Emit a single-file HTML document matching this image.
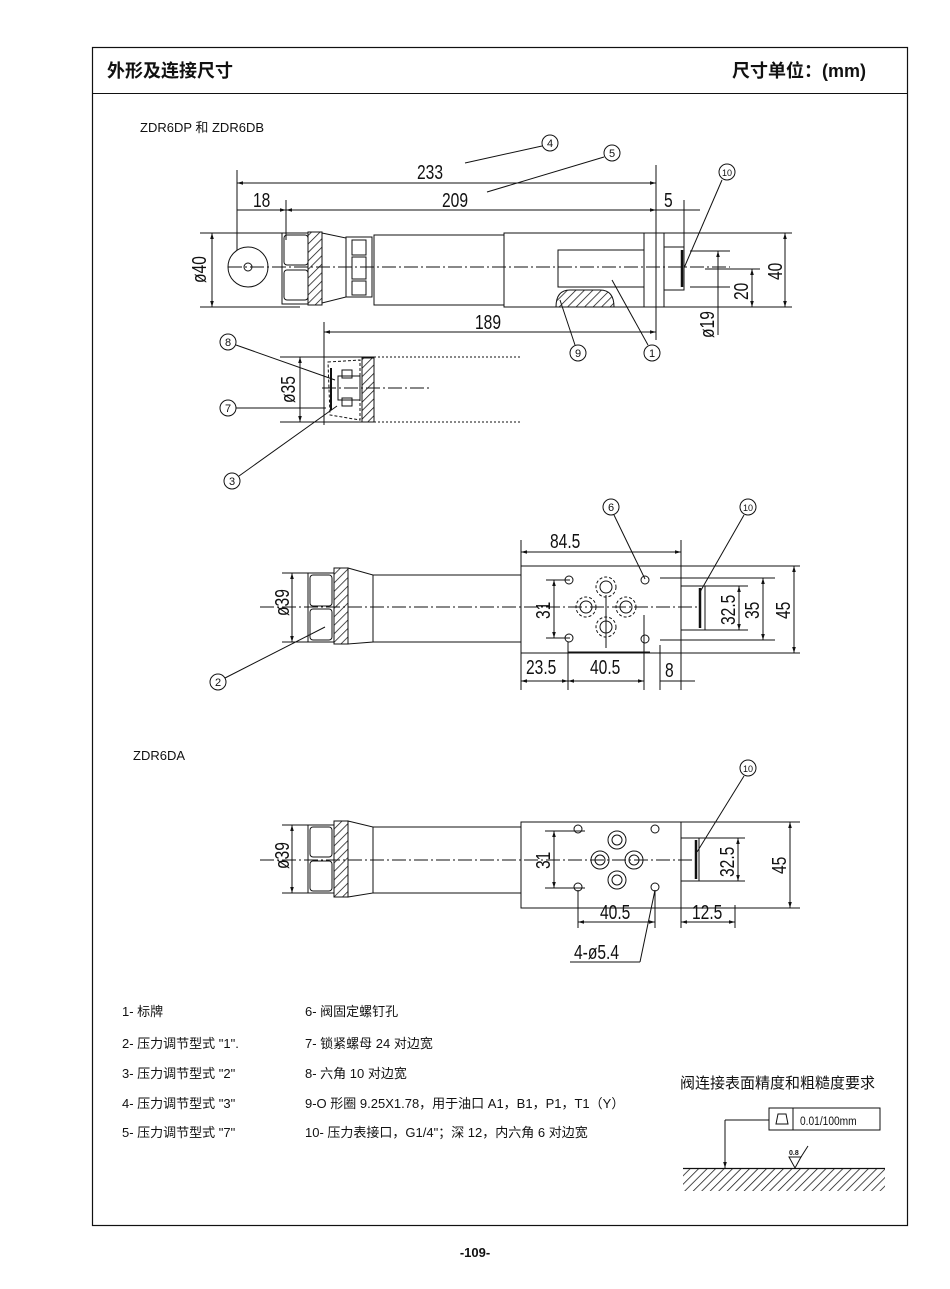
<!DOCTYPE html>
<html><head><meta charset="utf-8"><style>
body{margin:0;background:#fff;}
svg{display:block;}
text{font-family:"Liberation Sans","Noto Sans CJK SC",sans-serif;fill:#111;}
.d{font-family:"Liberation Sans",sans-serif;font-size:20px;}
.l{font-size:13px;}
</style></head><body>
<svg width="950" height="1289" viewBox="0 0 950 1289" xmlns="http://www.w3.org/2000/svg">
<defs>
<marker id="a" viewBox="0 0 10 10" refX="10" refY="5" markerWidth="8" markerHeight="6" orient="auto-start-reverse"><path d="M0,2 L10,5 L0,8z" fill="#111"/></marker>
<pattern id="h" width="6" height="6" patternUnits="userSpaceOnUse" patternTransform="rotate(45)"><line x1="0" y1="0" x2="0" y2="6" stroke="#111" stroke-width="1.5"/></pattern>
</defs>
<g fill="none" stroke="#111" stroke-width="1">
<rect x="92.5" y="47.5" width="815" height="1178" stroke-width="1.2"/>
<line x1="92" y1="93.5" x2="907" y2="93.5"/>
</g>
<text x="107" y="77" font-size="18" font-weight="bold">外形及连接尺寸</text>
<text x="732" y="77" font-size="18" font-weight="bold">尺寸单位：(mm)</text>
<text x="140" y="132" class="l">ZDR6DP 和 ZDR6DB</text>

<!-- TOP VIEW -->
<g fill="none" stroke="#111" stroke-width="1">
<line x1="237" y1="170" x2="237" y2="262"/>
<line x1="286" y1="200" x2="286" y2="240"/>
<line x1="656" y1="165" x2="656" y2="340"/>
<line x1="684" y1="200" x2="684" y2="255"/>
<line x1="237" y1="183" x2="656" y2="183" marker-start="url(#a)" marker-end="url(#a)"/>
<line x1="237" y1="210" x2="286" y2="210" marker-end="url(#a)"/>
<line x1="286" y1="210" x2="656" y2="210" marker-start="url(#a)" marker-end="url(#a)"/>
<line x1="656" y1="210" x2="700" y2="210"/>
<line x1="324" y1="332" x2="656" y2="332" marker-start="url(#a)" marker-end="url(#a)"/>
<line x1="324" y1="322" x2="324" y2="425"/>
<line x1="200" y1="233" x2="300" y2="233"/>
<line x1="200" y1="307" x2="300" y2="307"/>
<line x1="212" y1="233" x2="212" y2="307" marker-start="url(#a)" marker-end="url(#a)"/>
<line x1="644" y1="233" x2="792" y2="233"/>
<line x1="644" y1="307" x2="792" y2="307"/>
<line x1="785" y1="233" x2="785" y2="307" marker-start="url(#a)" marker-end="url(#a)"/>
<line x1="690" y1="251" x2="730" y2="251"/>
<line x1="690" y1="287" x2="730" y2="287"/>
<line x1="718" y1="251" x2="718" y2="335" marker-start="url(#a)"/>
<line x1="705" y1="269" x2="760" y2="269"/>
<line x1="752" y1="269" x2="752" y2="307" marker-start="url(#a)" marker-end="url(#a)"/>
<circle cx="248" cy="267" r="20" fill="#fff"/>
<circle cx="248" cy="267" r="4"/>
<rect x="284" y="235" width="24" height="30" rx="3"/>
<rect x="284" y="270" width="24" height="30" rx="3"/>
<rect x="282" y="233" width="26" height="71"/>
<rect x="308" y="232" width="14" height="73" fill="url(#h)"/>
<path d="M322,233 L346,238 L346,297 L322,303z"/>
<rect x="346" y="237" width="26" height="60"/>
<path d="M352,240 h14 v15 h-14z M352,257 h14 v22 h-14z M352,281 h14 v14 h-14z"/>
<rect x="374" y="235" width="130" height="70"/>
<rect x="504" y="233" width="140" height="74"/>
<rect x="644" y="233" width="20" height="74"/>
<rect x="664" y="247" width="20" height="43"/>
<line x1="682" y1="250" x2="682" y2="287" stroke-width="2.5"/>
<rect x="558" y="250" width="86" height="37"/>
<path d="M556,307 Q556,290 570,290 L600,290 Q614,290 614,307z" fill="url(#h)"/>
<line x1="228" y1="267" x2="730" y2="267" stroke-dasharray="14 3 2 3"/>
<line x1="280" y1="357" x2="324" y2="357"/>
<line x1="280" y1="422" x2="324" y2="422"/>
<line x1="300" y1="357" x2="300" y2="422" marker-start="url(#a)" marker-end="url(#a)"/>
<path d="M324,357 L374,357 L374,422 L324,422z"/>
<path d="M328,362 L360,360 L360,420 L330,415z" stroke-dasharray="3 2"/>
<rect x="362" y="358" width="12" height="64" fill="url(#h)"/>
<rect x="338" y="376" width="22" height="24"/>
<rect x="342" y="370" width="10" height="8"/>
<rect x="342" y="398" width="10" height="8"/>
<line x1="331" y1="368" x2="331" y2="410" stroke-width="2"/>
<line x1="374" y1="357" x2="520" y2="357" stroke-dasharray="2 2"/>
<line x1="374" y1="422" x2="520" y2="422" stroke-dasharray="2 2"/>
<line x1="322" y1="388" x2="430" y2="388" stroke-dasharray="14 3 2 3"/>
<circle cx="550" cy="143" r="8"/><line x1="465" y1="163" x2="542" y2="146"/>
<circle cx="612" cy="153" r="8"/><line x1="487" y1="192" x2="604" y2="157"/>
<circle cx="727" cy="172" r="8"/><line x1="722" y1="180" x2="684" y2="268"/>
<circle cx="578" cy="353" r="8"/><line x1="575" y1="345" x2="560" y2="300"/>
<circle cx="652" cy="353" r="8"/><line x1="648" y1="345" x2="612" y2="280"/>
<circle cx="228" cy="342" r="8"/><line x1="236" y1="345" x2="335" y2="380"/>
<circle cx="228" cy="408" r="8"/><line x1="236" y1="408" x2="326" y2="408"/>
<circle cx="232" cy="481" r="8"/><line x1="239" y1="476" x2="337" y2="406"/>
</g>
<text class="d" transform="translate(417,179) scale(0.78,1)">233</text>
<text class="d" transform="translate(442,207) scale(0.78,1)">209</text>
<text class="d" transform="translate(253,207) scale(0.78,1)">18</text>
<text class="d" transform="translate(664,207) scale(0.78,1)">5</text>
<text class="d" transform="translate(475,329) scale(0.78,1)">189</text>
<text class="d" transform="translate(206,283) rotate(-90) scale(0.78,1)">ø40</text>
<text class="d" transform="translate(782,280) rotate(-90) scale(0.78,1)">40</text>
<text class="d" transform="translate(748,300) rotate(-90) scale(0.78,1)">20</text>
<text class="d" transform="translate(714,338) rotate(-90) scale(0.78,1)">ø19</text>
<text class="d" transform="translate(295,403) rotate(-90) scale(0.78,1)">ø35</text>
<g font-size="11" text-anchor="middle"><text x="550" y="147">4</text><text x="612" y="157">5</text><text x="727" y="176" font-size="9">10</text><text x="578" y="357">9</text><text x="652" y="357">1</text><text x="228" y="346">8</text><text x="228" y="412">7</text><text x="232" y="485">3</text></g>

<!-- MIDDLE VIEW -->
<g fill="none" stroke="#111" stroke-width="1">
<line x1="282" y1="573" x2="330" y2="573"/><line x1="282" y1="642" x2="330" y2="642"/>
<line x1="292" y1="573" x2="292" y2="642" marker-start="url(#a)" marker-end="url(#a)"/>
<rect x="308" y="573" width="26" height="69"/>
<rect x="310" y="575" width="22" height="31" rx="3"/><rect x="310" y="609" width="22" height="31" rx="3"/>
<rect x="334" y="568" width="14" height="76" fill="url(#h)"/>
<path d="M348,568 L373,575 L373,642 L348,644z"/>
<rect x="373" y="575" width="148" height="67"/>
<rect x="521" y="566" width="160" height="87"/>
<rect x="681" y="586" width="24" height="44"/>
<line x1="700" y1="588" x2="700" y2="628" stroke-width="2.5"/>
<line x1="260" y1="607" x2="700" y2="607" stroke-dasharray="14 3 2 3"/>
<line x1="521" y1="540" x2="521" y2="690"/><line x1="681" y1="540" x2="681" y2="690"/>
<line x1="521" y1="552" x2="681" y2="552" marker-start="url(#a)" marker-end="url(#a)"/>
<line x1="681" y1="566" x2="800" y2="566"/><line x1="681" y1="653" x2="800" y2="653"/>
<line x1="660" y1="578" x2="775" y2="578"/><line x1="660" y1="640" x2="775" y2="640"/>
<line x1="705" y1="586" x2="748" y2="586"/><line x1="705" y1="630" x2="748" y2="630"/>
<line x1="794" y1="566" x2="794" y2="653" marker-start="url(#a)" marker-end="url(#a)"/>
<line x1="763" y1="578" x2="763" y2="640" marker-start="url(#a)" marker-end="url(#a)"/>
<line x1="739" y1="586" x2="739" y2="630" marker-start="url(#a)" marker-end="url(#a)"/>
<line x1="546" y1="580" x2="570" y2="580"/><line x1="546" y1="638" x2="570" y2="638"/>
<line x1="554" y1="580" x2="554" y2="638" marker-start="url(#a)" marker-end="url(#a)"/>
<circle cx="569" cy="580" r="4"/><circle cx="569" cy="638" r="4"/><circle cx="645" cy="580" r="4"/><circle cx="645" cy="639" r="4"/>
<circle cx="606" cy="587" r="6"/><circle cx="606" cy="627" r="6"/><circle cx="586" cy="607" r="6"/><circle cx="626" cy="607" r="6"/>
<g stroke-dasharray="3 2"><circle cx="606" cy="587" r="10"/><circle cx="606" cy="627" r="10"/><circle cx="586" cy="607" r="10"/><circle cx="626" cy="607" r="10"/></g>
<line x1="606" y1="595" x2="606" y2="648"/>
<line x1="568" y1="642" x2="568" y2="690"/><line x1="644" y1="615" x2="644" y2="690"/><line x1="660" y1="645" x2="660" y2="690"/>
<line x1="521" y1="681" x2="568" y2="681" marker-start="url(#a)" marker-end="url(#a)"/>
<line x1="568" y1="681" x2="644" y2="681" marker-start="url(#a)" marker-end="url(#a)"/>
<line x1="660" y1="681" x2="695" y2="681"/>
<line x1="568" y1="652" x2="650" y2="652"/>
<circle cx="611" cy="507" r="8"/><line x1="614" y1="515" x2="645" y2="579"/>
<circle cx="748" cy="507" r="8"/><line x1="744" y1="515" x2="700" y2="592"/>
<circle cx="218" cy="682" r="8"/><line x1="225" y1="678" x2="325" y2="627"/>
</g>
<text class="d" transform="translate(550,548) scale(0.78,1)">84.5</text>
<text class="d" transform="translate(526,674) scale(0.78,1)">23.5</text>
<text class="d" transform="translate(590,674) scale(0.78,1)">40.5</text>
<text class="d" transform="translate(665,677) scale(0.78,1)">8</text>
<text class="d" transform="translate(289,616) rotate(-90) scale(0.78,1)">ø39</text>
<text class="d" transform="translate(550,619) rotate(-90) scale(0.78,1)">31</text>
<text class="d" transform="translate(735,625) rotate(-90) scale(0.78,1)">32.5</text>
<text class="d" transform="translate(759,619) rotate(-90) scale(0.78,1)">35</text>
<text class="d" transform="translate(790,619) rotate(-90) scale(0.78,1)">45</text>
<g font-size="11" text-anchor="middle"><text x="611" y="511">6</text><text x="748" y="511" font-size="9">10</text><text x="218" y="686">2</text></g>

<text x="133" y="760" class="l">ZDR6DA</text>
<!-- BOTTOM VIEW -->
<g fill="none" stroke="#111" stroke-width="1">
<line x1="282" y1="825" x2="330" y2="825"/><line x1="282" y1="893" x2="330" y2="893"/>
<line x1="292" y1="825" x2="292" y2="893" marker-start="url(#a)" marker-end="url(#a)"/>
<rect x="308" y="825" width="26" height="68"/>
<rect x="310" y="827" width="22" height="30" rx="3"/><rect x="310" y="861" width="22" height="30" rx="3"/>
<rect x="334" y="821" width="14" height="76" fill="url(#h)"/>
<path d="M348,821 L373,827 L373,893 L348,897z"/>
<rect x="373" y="827" width="148" height="66"/>
<rect x="521" y="822" width="160" height="86"/>
<rect x="681" y="838" width="18" height="43"/>
<line x1="696" y1="840" x2="696" y2="879" stroke-width="2.5"/>
<line x1="260" y1="860" x2="700" y2="860" stroke-dasharray="14 3 2 3"/>
<line x1="681" y1="822" x2="800" y2="822"/><line x1="681" y1="908" x2="800" y2="908"/>
<line x1="699" y1="838" x2="745" y2="838"/><line x1="699" y1="881" x2="745" y2="881"/>
<line x1="790" y1="822" x2="790" y2="908" marker-start="url(#a)" marker-end="url(#a)"/>
<line x1="738" y1="838" x2="738" y2="881" marker-start="url(#a)" marker-end="url(#a)"/>
<line x1="545" y1="831" x2="585" y2="831"/><line x1="545" y1="888" x2="585" y2="888"/>
<line x1="554" y1="831" x2="554" y2="888" marker-start="url(#a)" marker-end="url(#a)"/>
<circle cx="578" cy="829" r="4"/><circle cx="578" cy="887" r="4"/><circle cx="655" cy="829" r="4"/><circle cx="655" cy="887" r="4"/>
<circle cx="617" cy="840" r="9"/><circle cx="617" cy="840" r="5"/>
<circle cx="617" cy="880" r="9"/><circle cx="617" cy="880" r="5"/>
<circle cx="600" cy="860" r="9"/><circle cx="600" cy="860" r="5"/>
<circle cx="634" cy="860" r="9"/><circle cx="634" cy="860" r="5"/>
<line x1="578" y1="890" x2="578" y2="928"/><line x1="655" y1="890" x2="655" y2="928"/>
<line x1="681" y1="908" x2="681" y2="928"/><line x1="735" y1="905" x2="735" y2="928"/>
<line x1="578" y1="922" x2="655" y2="922" marker-start="url(#a)" marker-end="url(#a)"/>
<line x1="681" y1="922" x2="735" y2="922" marker-start="url(#a)" marker-end="url(#a)"/>
<line x1="655" y1="890" x2="640" y2="962"/>
<line x1="570" y1="962" x2="640" y2="962"/>
<circle cx="748" cy="768" r="8"/><line x1="744" y1="776" x2="697" y2="852"/>
</g>
<text class="d" transform="translate(600,919) scale(0.78,1)">40.5</text>
<text class="d" transform="translate(692,919) scale(0.78,1)">12.5</text>
<text class="d" transform="translate(574,959) scale(0.78,1)">4-ø5.4</text>
<text class="d" transform="translate(289,869) rotate(-90) scale(0.78,1)">ø39</text>
<text class="d" transform="translate(550,869) rotate(-90) scale(0.78,1)">31</text>
<text class="d" transform="translate(734,877) rotate(-90) scale(0.78,1)">32.5</text>
<text class="d" transform="translate(786,874) rotate(-90) scale(0.78,1)">45</text>
<text x="748" y="772" font-size="9" text-anchor="middle">10</text>

<g font-size="13">
<text x="122" y="1016">1- 标牌</text>
<text x="122" y="1048">2- 压力调节型式 "1".</text>
<text x="122" y="1078">3- 压力调节型式 "2"</text>
<text x="122" y="1108">4- 压力调节型式 "3"</text>
<text x="122" y="1137">5- 压力调节型式 "7"</text>
<text x="305" y="1016">6- 阀固定螺钉孔</text>
<text x="305" y="1048">7- 锁紧螺母 24 对边宽</text>
<text x="305" y="1078">8- 六角 10 对边宽</text>
<text x="305" y="1108">9-O 形圈 9.25X1.78，用于油口 A1，B1，P1，T1（Y）</text>
<text x="305" y="1137">10- 压力表接口，G1/4"；深 12，内六角 6 对边宽</text>
</g>
<text x="680" y="1088" font-size="15">阀连接表面精度和粗糙度要求</text>
<g fill="none" stroke="#111" stroke-width="1">
<rect x="769" y="1108" width="111" height="22"/>
<line x1="793" y1="1108" x2="793" y2="1130"/>
<path d="M776,1124 L788,1124 L786,1114 L778,1114z"/>
<line x1="725" y1="1120" x2="769" y2="1120"/>
<line x1="725" y1="1120" x2="725" y2="1168" marker-end="url(#a)"/>
<line x1="683" y1="1168.5" x2="885" y2="1168.5" stroke-width="1.2"/>
<rect x="683" y="1169" width="202" height="22" fill="url(#h)" stroke="none"/>
<path d="M789,1157 L801,1157 L795,1168z"/>
<line x1="801" y1="1157" x2="808" y2="1146"/>
</g>
<text x="789" y="1155" font-size="7" font-weight="bold">0.8</text>
<text transform="translate(800,1125) scale(0.85,1)" font-size="12">0.01/100mm</text>
<text x="475" y="1257" font-size="13" font-weight="bold" text-anchor="middle">-109-</text>
</svg>
</body></html>
